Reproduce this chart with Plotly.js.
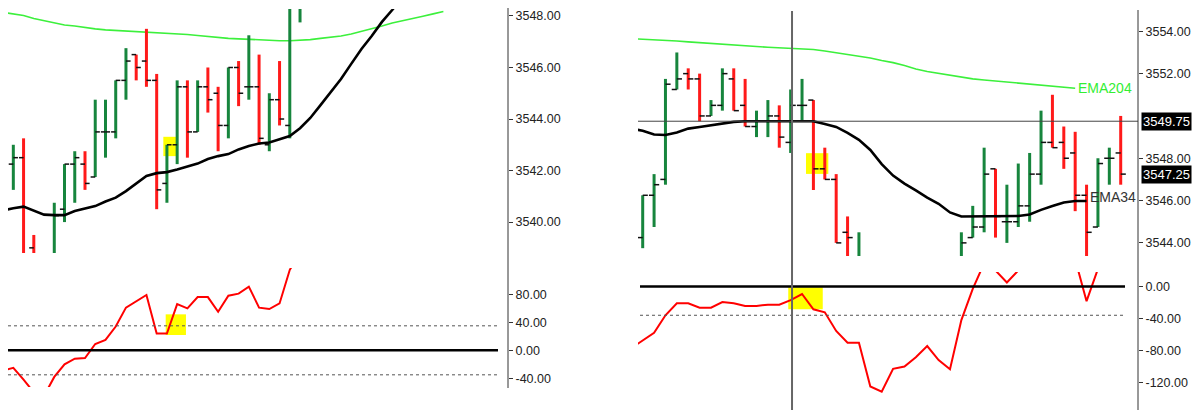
<!DOCTYPE html>
<html>
<head>
<meta charset="utf-8">
<script src="https://cdn.plot.ly/plotly-3.0.1.min.js"></script>
<style>html,body{margin:0;padding:0;background:#fff;}#chart{width:1201px;height:410px;}</style>
</head>
<body>
<div id="chart"></div>
<script>
// ---------- LEFT PANEL DATA (bar index 1..29) ----------
const leftOpen  = [3542.25,3542.5,3539.0,null,3538.5,3540.5,3542.25,3542.25,3541.75,3543.5,3543.5,3545.5,3546.5,3546.25,3545.5,3541.5,3543.0,3545.25,3543.5,3545.25,3545.0,3543.75,3546.0,3545.25,3545.25,3543.0,3544.75,3543.75,3548.5];
const leftHigh  = [3543.0,3543.25,3539.5,null,3540.75,3542.25,3542.75,3542.75,3544.75,3544.75,3545.5,3546.75,3546.5,3547.5,3545.75,3543.0,3545.5,3545.5,3545.5,3546.0,3545.25,3546.0,3546.25,3547.25,3546.5,3545.0,3546.25,3549.5,3550.0];
const leftLow   = [3541.25,3538.5,3538.0,null,3538.5,3540.0,3540.75,3541.25,3541.75,3542.5,3543.25,3544.75,3545.5,3545.25,3540.5,3540.75,3542.25,3542.5,3543.5,3544.25,3542.75,3543.25,3544.5,3544.75,3543.0,3542.75,3543.75,3543.25,3547.75];
const leftClose = [3542.5,3538.75,3538.5,null,3540.25,3542.25,3542.5,3541.5,3543.5,3543.5,3545.5,3546.25,3546.0,3545.5,3541.25,3543.0,3545.25,3543.5,3545.25,3544.75,3543.75,3546.0,3545.0,3545.25,3543.25,3544.75,3544.0,3549.0,3549.5];
// EMA lines (index 0..n)
const leftEma34  = [3540.45,3540.54,3540.60,3540.43,3540.29,3540.27,3540.27,3540.43,3540.52,3540.62,3540.80,3540.95,3541.20,3541.51,3541.79,3541.90,3541.94,3542.04,3542.16,3542.27,3542.45,3542.56,3542.64,3542.82,3542.95,3543.05,3543.09,3543.20,3543.34,3543.64,3544.04,3544.54,3545.05,3545.55,3546.14,3546.72,3547.22,3547.77,3548.23,3548.74];
const leftEma204 = [3548.14,3548.08,3548.02,3547.90,3547.81,3547.73,3547.65,3547.61,3547.55,3547.50,3547.46,3547.44,3547.42,3547.40,3547.38,3547.34,3547.32,3547.30,3547.28,3547.24,3547.20,3547.17,3547.13,3547.11,3547.09,3547.07,3547.05,3547.04,3547.04,3547.05,3547.08,3547.13,3547.17,3547.22,3547.30,3547.40,3547.50,3547.61,3547.73,3547.81,3547.90,3547.99,3548.08,3548.17];
// oscillator (index 0..29)
const leftOsc = [-29,-25,-42,-60,-65,-38,-20,-12,-11,9,15,34,61,70,79,24,24,66,60,76,76,55,78,81,91,61,59,67,115,140];
const leftBand = 35;
const leftPriceTicks = [3540,3542,3544,3546,3548];
const leftOscTicks = [-40,0,40,80];

// ---------- RIGHT PANEL DATA (bar index 1..43) ----------
const N8 = [null,null,null,null,null,null,null,null];
const rightOpen  = [3544.25,3546.25,3547.0,3551.25,3552.0,3551.75,3550.0,3550.5,3551.75,3550.5,3549.5,3549.75,3550.0,3548.75,3550.5,3550.75,3547.5,3547.0,3544.5,3543.0].concat(N8,[3543.0,3544.25,3544.75,3547.5,3545.0,3545.0,3545.75,3547.25,3548.75,3548.75,3548.25,3546.25,3544.75,3548.0,3548.25]);
const rightHigh  = [3546.25,3547.25,3551.75,3553.0,3552.25,3552.0,3550.75,3552.25,3552.25,3551.75,3550.25,3550.75,3550.5,3551.25,3551.75,3550.75,3548.5,3547.25,3545.25,3544.5].concat(N8,[3544.5,3545.75,3548.5,3547.5,3546.75,3547.75,3548.25,3550.25,3551.0,3549.5,3549.25,3546.75,3548.0,3548.5,3550.0]);
const rightLow   = [3543.75,3544.75,3546.75,3551.25,3551.25,3549.75,3550.0,3550.25,3550.25,3549.5,3549.0,3549.0,3548.5,3548.25,3549.75,3546.5,3547.0,3544.0,3543.25,3543.0].concat(N8,[3543.0,3544.25,3544.5,3544.25,3544.0,3544.75,3545.0,3546.75,3548.5,3547.5,3545.5,3543.25,3544.75,3546.75,3546.75]);
const rightClose = [3546.25,3546.75,3551.5,3551.75,3551.75,3550.0,3550.5,3552.0,3550.25,3549.5,3549.75,3550.0,3549.0,3550.5,3550.5,3547.5,3547.0,3544.0,3544.25,3543.25].concat(N8,[3544.0,3544.75,3547.25,3545.25,3545.0,3545.75,3547.25,3548.75,3548.5,3548.0,3546.25,3544.5,3547.75,3548.0,3547.25]);
const rightEma34  = [3549.40,3549.30,3549.12,3549.10,3549.22,3549.40,3549.48,3549.56,3549.64,3549.72,3549.75,3549.75,3549.75,3549.75,3549.75,3549.76,3549.75,3549.62,3549.48,3549.20,3548.87,3548.39,3547.72,3547.18,3546.80,3546.48,3546.14,3545.85,3545.44,3545.25,3545.25,3545.26,3545.27,3545.27,3545.27,3545.34,3545.56,3545.74,3545.91,3545.98,3545.98];
const rightEma204 = [3553.65,3553.63,3553.60,3553.57,3553.54,3553.50,3553.46,3553.41,3553.37,3553.35,3553.31,3553.28,3553.25,3553.22,3553.20,3553.17,3553.14,3553.07,3552.99,3552.91,3552.84,3552.74,3552.62,3552.52,3552.38,3552.22,3552.10,3552.01,3551.91,3551.82,3551.75,3551.70,3551.65,3551.59,3551.55,3551.49,3551.43,3551.39,3551.34,3551.31];
const rightOsc = [-77,-67,-58,-36,-21,-21,-26.5,-26.5,-19.5,-21,-24.4,-24.4,-22.7,-22.7,-17,-9.4,-28.5,-32.3,-55.6,-70.2,-70.2,-125,-131.5,-103,-100,-88.5,-74.4,-92,-103.5,-42,-3,29,20,5,20,45,62,55,48,34,-18.4,22,38,30];
const rightBand = 36;
const rightPriceTicks = [3544,3546,3548,3552,3554];
const rightOscTicks = [-120,-80,-40,0];
const lastPrice = 3547.25;
const cursorPrice = 3549.75;
const cursorBar = 14.12;

// ---------- styles ----------
const GREEN = '#17853d', RED = '#ff1a1a', EMA_FAST = '#000000', EMA_SLOW = '#3cf03c', OSC = '#ff0000';
const TICK_HALF = 0.45;

function idx(n, start){ const a=[]; for(let i=0;i<n;i++) a.push(i+start); return a; }

function barTraces(o,h,l,c,xa,ya){
  const gx=[],gy=[],rx=[],ry=[],tx=[],ty=[];
  for(let i=0;i<o.length;i++){
    if(o[i]==null) continue;
    const x=i+1;
    const up=c[i]>=o[i];
    (up?gx:rx).push(x,x,null); (up?gy:ry).push(l[i],h[i],null);
    tx.push(x-TICK_HALF,x,null,x,x+TICK_HALF,null);
    ty.push(o[i],o[i],null,c[i],c[i],null);
  }
  const base={type:'scatter',mode:'lines',xaxis:xa,yaxis:ya,hoverinfo:'skip'};
  return [
    Object.assign({},base,{x:gx,y:gy,line:{color:GREEN,width:3}}),
    Object.assign({},base,{x:rx,y:ry,line:{color:RED,width:3}}),
    Object.assign({},base,{x:tx,y:ty,line:{color:'#111',width:1.5}})
  ];
}
function line(x,y,color,width,xa,ya){
  return {type:'scatter',mode:'lines',x:x,y:y,xaxis:xa,yaxis:ya,line:{color:color,width:width,shape:'linear'},hoverinfo:'skip'};
}

const traces = [];
traces.push(line(idx(leftEma204.length,0),leftEma204,EMA_SLOW,1.6,'x','y'));
traces.push(line(idx(rightEma204.length,0),rightEma204,EMA_SLOW,1.6,'x2','y3'));
traces.push(...barTraces(leftOpen,leftHigh,leftLow,leftClose,'x','y'));
traces.push(...barTraces(rightOpen,rightHigh,rightLow,rightClose,'x2','y3'));
traces.push(line(idx(leftEma34.length,0),leftEma34,EMA_FAST,2.6,'x','y'));
traces.push(line(idx(rightEma34.length,0),rightEma34,EMA_FAST,2.6,'x2','y3'));
traces.push(line(idx(leftOsc.length,0),leftOsc,OSC,2,'x','y2'));
traces.push(line(idx(rightOsc.length,0),rightOsc,OSC,2,'x2','y4'));

const W=1201,H=410;
const fmt = v => v.toFixed(2);
function yax(domain,range,ticks,anchor){
  return {domain:domain,range:range,side:'right',anchor:anchor,tickvals:ticks,ticktext:ticks.map(fmt),
    ticks:'outside',ticklen:4,tickwidth:1,tickcolor:'#333',showgrid:false,zeroline:false,showline:false,
    fixedrange:true,tickfont:{family:'Liberation Sans, Arial, sans-serif',size:12.5,color:'#222'}};
}

const shapes = [
  // highlight boxes
  {type:'rect',layer:'below',xref:'x',yref:'y',x0:15.65,x1:16.9,y0:3542.56,y1:3543.31,fillcolor:'#ffff00',line:{width:0}},
  {type:'rect',layer:'below',xref:'x',yref:'y2',x0:15.88,x1:17.86,y0:21.9,y1:51.4,fillcolor:'#ffff00',line:{width:0}},
  {type:'rect',layer:'below',xref:'x2',yref:'y3',x0:15.35,x1:17.31,y0:3547.26,y1:3548.24,fillcolor:'#ffff00',line:{width:0}},
  {type:'rect',layer:'below',xref:'x2',yref:'y4',x0:13.79,x1:16.82,y0:-28.5,y1:-1,fillcolor:'#ffff00',line:{width:0}},
  // oscillator reference lines
  {type:'line',xref:'x domain',yref:'y2',x0:0,x1:0.98,y0:0,y1:0,line:{color:'#000',width:2.6}},
  {type:'line',xref:'x domain',yref:'y2',x0:0,x1:0.98,y0:leftBand,y1:leftBand,line:{color:'#555',width:1,dash:'dot'}},
  {type:'line',xref:'x domain',yref:'y2',x0:0,x1:0.98,y0:-leftBand,y1:-leftBand,line:{color:'#555',width:1,dash:'dot'}},
  {type:'line',xref:'x2 domain',yref:'y4',x0:0.004,x1:0.974,y0:0,y1:0,line:{color:'#000',width:2.6}},
  {type:'line',xref:'x2 domain',yref:'y4',x0:0.004,x1:0.974,y0:-rightBand,y1:-rightBand,line:{color:'#555',width:1,dash:'dot'}},
  // cursor lines
  {type:'line',xref:'x2 domain',yref:'y3',x0:0,x1:1,y0:cursorPrice,y1:cursorPrice,line:{color:'#444',width:1}},
  {type:'line',xref:'x2',yref:'paper',x0:cursorBar,x1:cursorBar,y0:0,y1:1-11/H,line:{color:'#666',width:2}},
  // axis lines
  {type:'line',xref:'paper',yref:'paper',x0:508/W,x1:508/W,y0:1-8/H,y1:1-388/H,line:{color:'#333',width:1}},
  {type:'line',xref:'paper',yref:'paper',x0:1138/W,x1:1138/W,y0:1-10/H,y1:0,line:{color:'#333',width:1}}
];

const annFont = {family:'Liberation Sans, Arial, sans-serif',size:13,color:'#fff'};
const annotations = [
  {xref:'paper',yref:'y3',x:1141/W,y:cursorPrice,xanchor:'left',yanchor:'middle',text:fmt(cursorPrice),showarrow:false,bgcolor:'#000',borderpad:1,font:annFont},
  {xref:'paper',yref:'y3',x:1141/W,y:lastPrice,xanchor:'left',yanchor:'middle',text:fmt(lastPrice),showarrow:false,bgcolor:'#000',borderpad:1,font:annFont},
  {xref:'x2',yref:'y3',x:rightEma204.length-1,y:rightEma204[rightEma204.length-1],xanchor:'left',yanchor:'middle',xshift:1,text:'EMA204',showarrow:false,font:{family:'Liberation Sans, Arial, sans-serif',size:14,color:'#33ee33'}},
  {xref:'x2',yref:'y3',x:rightEma34.length-1,y:rightEma34[rightEma34.length-1],xanchor:'left',yanchor:'middle',xshift:1,yshift:4,text:'EMA34',showarrow:false,font:{family:'Liberation Sans, Arial, sans-serif',size:14,color:'#333'}},
  {xref:'paper',yref:'paper',x:1143/W,y:1-414.5/H,xanchor:'left',yanchor:'middle',text:fmt(-160),showarrow:false,font:{family:'Liberation Sans, Arial, sans-serif',size:12.5,color:'#222'}}
];

const layout = {
  width:W,height:H,margin:{l:0,r:0,t:0,b:0},showlegend:false,
  paper_bgcolor:'#fff',plot_bgcolor:'#fff',
  font:{family:'Liberation Sans, Arial, sans-serif',size:12.5,color:'#222'},
  xaxis:{domain:[8/W,508/W],range:[0.48,49.31],visible:false,anchor:'y',fixedrange:true},
  xaxis2:{domain:[638/W,1138/W],range:[0.587,44.52],visible:false,anchor:'y3',fixedrange:true},
  yaxis:yax([1-253/H,1-9/H],[3538.80,3548.27],leftPriceTicks,'x'),
  yaxis2:yax([1-387/H,1-268/H],[-52.4,117.6],leftOscTicks,'x'),
  yaxis3:yax([1-256/H,1-11/H],[3543.38,3554.96],rightPriceTicks,'x2'),
  yaxis4:yax([0,1-272/H],[-154.4,18.1],rightOscTicks,'x2'),
  shapes:shapes,annotations:annotations,hovermode:false
};

Plotly.newPlot('chart',traces,layout,{staticPlot:true,displayModeBar:false});
</script>
</body>
</html>
